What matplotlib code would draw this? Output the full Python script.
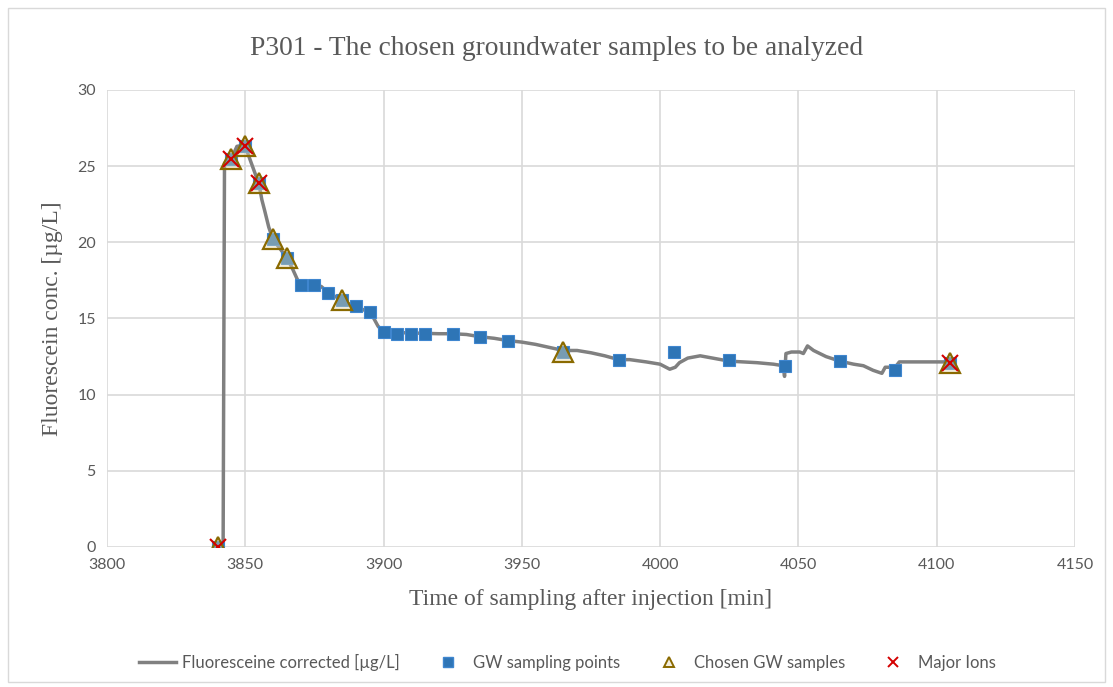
import numpy as np
import matplotlib.pyplot as plt
from matplotlib.patches import Rectangle
from matplotlib.lines import Line2D

# fluorescein curve
curve_t = [3840, 3842, 3842.5, 3845, 3847, 3850, 3851, 3855, 3856, 3857, 3858.5, 3860,
           3865, 3867, 3869.5, 3875, 3877.5, 3880, 3885, 3887, 3890, 3893, 3895, 3896.5,
           3898, 3900, 3910, 3920, 3925, 3930, 3935, 3940, 3945, 3950, 3955, 3960, 3965,
           3970, 3975, 3980, 3985, 3989, 3995, 4000, 4003.5, 4005.5, 4007, 4010, 4014.5,
           4019, 4025, 4030, 4035, 4041, 4044.5, 4045, 4045.5, 4047.5, 4050.5, 4051.8,
           4053.3, 4055.5, 4060, 4065, 4070, 4073.5, 4077, 4080.2, 4081.4, 4083.2, 4085,
           4086.5, 4089, 4095, 4105]
curve_c = [0.0, 0.0, 25.2, 25.5, 26.3, 26.4, 25.8, 23.8, 22.8, 22.1, 21.0, 20.2,
           19.0, 18.3, 17.3, 17.2, 17.1, 16.7, 16.2, 16.0, 15.8, 15.55, 15.4, 15.0,
           14.5, 14.1, 14.05, 14.0, 14.0, 13.95, 13.8, 13.7, 13.55, 13.45, 13.3, 13.1, 12.9,
           12.9, 12.75, 12.55, 12.3, 12.3, 12.15, 12.0, 11.67, 11.8, 12.1, 12.4, 12.55,
           12.4, 12.2, 12.15, 12.1, 12.0, 11.9, 11.2, 12.7, 12.8, 12.8, 12.7,
           13.2, 12.9, 12.5, 12.2, 12.0, 11.9, 11.6, 11.4, 11.8, 11.8, 11.8,
           12.15, 12.15, 12.15, 12.15]

# GW sampling points
gw_t = [3840, 3845, 3850, 3855, 3860, 3865, 3870, 3875, 3880, 3885, 3890, 3895, 3900,
        3905, 3910, 3915, 3925, 3935, 3945, 3965, 3985, 4005, 4025, 4045, 4065, 4085, 4105]
gw_c = [0.0, 25.5, 26.3, 23.9, 20.2, 19.0, 17.2, 17.2, 16.7, 16.2, 15.8, 15.4, 14.1,
        14.0, 14.0, 14.0, 14.0, 13.8, 13.55, 12.8, 12.3, 12.8, 12.25, 11.9, 12.2, 11.6, 12.1]

# chosen samples
chosen_t = [3840, 3845, 3850, 3855, 3860, 3865, 3885, 3965, 4105]
chosen_c = [0.0, 25.5, 26.3, 23.9, 20.2, 19.0, 16.2, 12.8, 12.1]

# major ions
ions_t = [3840, 3845, 3850, 3855, 4105]
ions_c = [0.0, 25.5, 26.3, 23.9, 12.1]

grey_txt = "#595959"

fig = plt.figure(figsize=(11.13, 6.87), dpi=100)
fig.patches.append(Rectangle((0.007, 0.008), 0.986, 0.98, transform=fig.transFigure,
                             fill=False, edgecolor="#d9d9d9", linewidth=1))
ax = fig.add_axes([0.0961, 0.2038, 0.8697, 0.6652])

ax.plot(curve_t, curve_c, color="#808080", linewidth=2.5, zorder=3)
ax.plot(gw_t, gw_c, linestyle="none", marker="s", markersize=9,
        markerfacecolor="#2e75b6", markeredgecolor="#3f86cf", markeredgewidth=0.8, zorder=4)
ax.plot(chosen_t, chosen_c, linestyle="none", marker="^", markersize=14,
        markerfacecolor=(0.9, 0.85, 0.68, 0.4), markeredgecolor="#8a6a00",
        markeredgewidth=1.6, zorder=5)
ax.plot(ions_t, ions_c, linestyle="none", marker="x", markersize=12,
        markeredgecolor="#d40000", markeredgewidth=1.5, zorder=6)

ax.set_xlim(3800, 4150)
ax.set_ylim(0, 30)
ax.set_xticks(np.arange(3800, 4151, 50))
ax.set_yticks(np.arange(0, 31, 5))
ax.grid(True, color="#d9d9d9", linewidth=1.2)
ax.set_axisbelow(True)
for s in ax.spines.values():
    s.set_visible(False)
ax.tick_params(length=0, labelsize=11.5, labelcolor=grey_txt, pad=8)
for lab in ax.get_xticklabels() + ax.get_yticklabels():
    lab.set_fontfamily("Lato")

fig.text(0.5, 0.93, "P301 - The chosen groundwater samples to be analyzed",
         ha="center", va="center", fontsize=19.8, color=grey_txt, family="Liberation Serif")
ax.set_xlabel("Time of sampling after injection [min]", fontsize=17, color=grey_txt,
              family="Liberation Serif", labelpad=12)
ax.set_ylabel("Fluorescein conc. [\u00b5g/L]", fontsize=17, color=grey_txt,
              family="Liberation Serif", labelpad=10)

handles = [
    Line2D([], [], color="#808080", linewidth=2.5),
    Line2D([], [], linestyle="none", marker="s", markersize=7, markerfacecolor="#2e75b6",
           markeredgecolor="#3f86cf"),
    Line2D([], [], linestyle="none", marker="^", markersize=7,
           markerfacecolor=(0.9, 0.85, 0.68, 0.4), markeredgecolor="#8a6a00", markeredgewidth=1.4),
    Line2D([], [], linestyle="none", marker="x", markersize=7, markeredgecolor="#d40000",
           markeredgewidth=1.4),
]
labels = ["Fluoresceine corrected [\u00b5g/L]", "GW sampling points", "Chosen GW samples", "Major Ions"]
fig.legend(handles, labels, loc="center", bbox_to_anchor=(0.51, 0.036), ncol=4, frameon=False,
           prop={"family": "Lato", "size": 12}, labelcolor=grey_txt, columnspacing=1.8,
           handlelength=2.2, handletextpad=0.4)

fig.savefig("out.png", dpi=100)
